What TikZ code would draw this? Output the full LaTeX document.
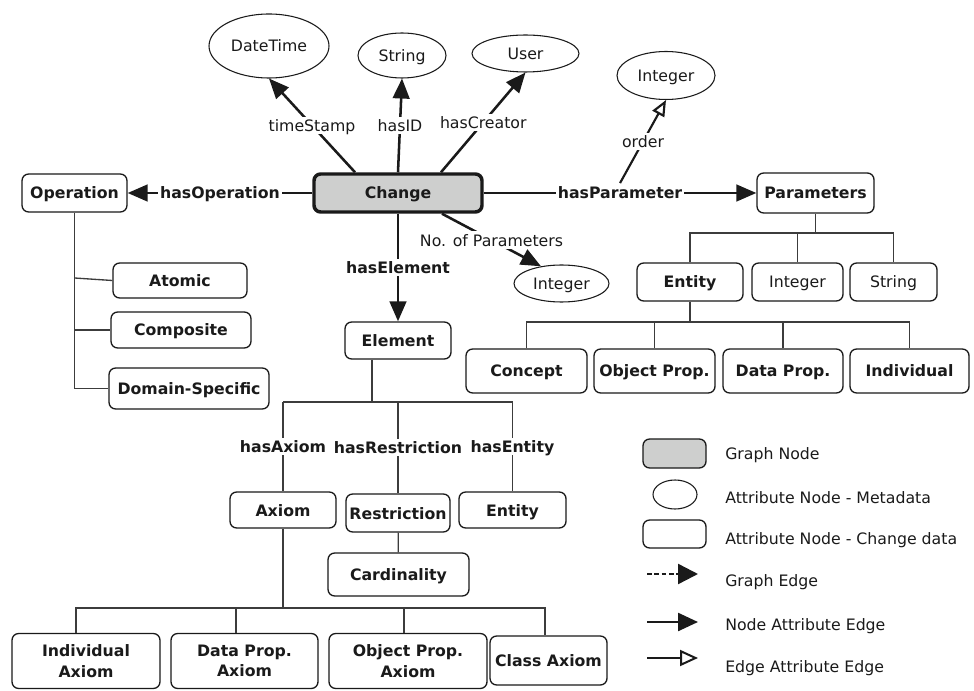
\documentclass[tikz,border=0pt]{standalone}
\usepackage{fontspec}
\setmainfont{DejaVu Sans}
\usetikzlibrary{arrows.meta,shapes.geometric}
\definecolor{ink}{RGB}{26,26,26}
\definecolor{nodegray}{RGB}{206,207,206}
\begin{document}
\begin{tikzpicture}[x=0.75pt,y=-0.75pt,
  wh/.style 2 args={minimum width=#1*0.75pt, minimum height=#2*0.75pt},
  regfont/.style={font=\fontsize{11.8}{15.5}\selectfont},
  boldfont/.style={font=\fontsize{11.8}{15.5}\selectfont\bfseries},
  oneline/.style={text height=0.95em, text depth=0.05em},
  box/.style={draw=ink, line width=1pt, rounded corners=5pt, inner sep=0pt, text=ink, boldfont, oneline},
  rbox/.style={box, regfont},
  mbox/.style={draw=ink, line width=1pt, rounded corners=5pt, inner sep=0pt, text=ink, boldfont, align=center},
  graphnode/.style={box, line width=2.6pt, fill=nodegray},
  ell/.style={draw=ink, line width=0.8pt, ellipse, inner sep=0pt, text=ink, regfont, oneline},
  lbl/.style={fill=white, inner sep=1.5pt, text=ink, regfont, oneline},
  blbl/.style={lbl, boldfont},
  tl/.style={draw=ink!85, line width=1pt},
  nae/.style={draw=ink, line width=1.9pt, -{Triangle[length=15pt,width=12.5pt]}},
  eae/.style={draw=ink, line width=1.6pt, -{Triangle[open,length=12pt,width=10pt]}},
  legtext/.style={anchor=west, inner sep=0pt, text=ink, regfont, oneline}
]
\fill[white] (0,0) rectangle (974,691);
\useasboundingbox (0,0) rectangle (974,691);

% central graph node and the operation branch
\node[graphnode, wh={168}{38}] (chg) at (398,193) {Change};
\node[box, wh={105}{38}] (op) at (74.5,193) {Operation};
\node[box, wh={134}{35}] (atomic) at (180,280.5) {Atomic};
\node[box, wh={140}{36}] (comp) at (181,330) {Composite};
\node[box, wh={160}{41}] (dom) at (189,388.5) {Domain-Specific};

% metadata attributes
\node[ell, wh={120}{64}] (dt) at (269,46) {DateTime};
\node[ell, wh={88}{45}] (str) at (402,55.5) {String};
\node[ell, wh={107}{37}] (usr) at (525.5,53.5) {User};
\node[ell, wh={98}{48}] (ordint) at (666,75.5) {Integer};
\node[ell, wh={95}{37}] (nint) at (561.5,283.5) {Integer};

% parameters
\node[box, wh={117}{40}] (par) at (815.5,193) {Parameters};
\node[box, wh={106}{38}] (pent) at (690,282) {Entity};
\node[rbox, wh={91}{38}] (pint) at (797.5,282) {Integer};
\node[rbox, wh={87}{38}] (pstr) at (893.5,282) {String};
\node[box, wh={121}{44}] (conc) at (526.5,371) {Concept};
\node[box, wh={121}{44}] (objp) at (654.5,371) {Object Prop.};
\node[box, wh={120}{44}] (datp) at (783,371) {Data Prop.};
\node[box, wh={119}{44}] (indv) at (909.5,371) {Individual};

% element
\node[box, wh={106}{37}] (elem) at (398,340.5) {Element};
\node[box, wh={106}{36}] (axm) at (283,510) {Axiom};
\node[box, wh={104}{38}] (rst) at (398,513) {Restriction};
\node[box, wh={107}{36}] (ent) at (512.5,510) {Entity};
\node[box, wh={141}{43}] (card) at (398.5,574.5) {Cardinality};
\node[mbox, wh={148}{55}] (ia) at (86,661) {Individual\\Axiom};
\node[mbox, wh={147}{55}] (dpa) at (244.5,661) {Data Prop.\\Axiom};
\node[mbox, wh={158}{55}] (opa) at (408,661) {Object Prop.\\Axiom};
\node[box, wh={117}{49}] (cla) at (548.5,660.5) {Class Axiom};

% attribute edges of the graph node
\draw[nae] (chg) -- node[blbl]{hasOperation} (op);
\draw[nae] (chg) -- node[blbl] (hp) {hasParameter} (par);
\draw[nae] (chg) -- node[blbl]{hasElement} (elem);
\draw[nae] ([xshift=-32.25pt]chg.north) -- node[lbl]{timeStamp} (dt.south);
\draw[nae] (chg.north) -- node[lbl]{hasID} (str.south);
\draw[nae] ([xshift=32.25pt]chg.north) -- node[lbl]{hasCreator} (usr.south);
\draw[nae] ([xshift=33pt]chg.south) -- node[lbl]{No. of Parameters} (nint.140);
\draw[eae] (hp.north) -- node[lbl]{order} (ordint.south);

% operation types
\coordinate (oa) at (74.5,278);
\draw[tl] (op.south) -- (op.south |- dom.west) -- (dom.west);
\draw[tl] (op.south |- comp.west) -- (comp.west);
\draw[tl] (oa) -- (atomic.west);

% parameter types
\coordinate (pbus) at (815.5,233);
\draw[tl] (par.south) -- (pbus);
\draw[tl] (pent.north) |- (pbus) -| (pstr.north);
\draw[tl] (pint.north) -- (pint.north |- pbus);

% entity types
\coordinate (ebus) at (690,322);
\draw[tl] (pent.south) -- (ebus);
\draw[tl] (conc.north) |- (ebus) -| (indv.north);
\draw[tl] (objp.north) -- (objp.north |- ebus);
\draw[tl] (datp.north) -- (datp.north |- ebus);

% element parts
\coordinate (elbus) at (372,402);
\draw[tl] (elem.south -| elbus) -- (elbus);
\draw[tl] (axm.north |- elbus) -- (ent.north |- elbus);
\draw[tl] (axm.north |- elbus) -- node[blbl]{hasAxiom} (axm.north);
\draw[tl] (rst.north |- elbus) -- node[blbl]{hasRestriction} (rst.north);
\draw[tl] (ent.north |- elbus) -- node[blbl]{hasEntity} (ent.north);
\draw[tl] (rst) -- (card);

% axiom types
\coordinate (abus) at (283,608);
\coordinate (iat) at ([xshift=-7.5pt]ia.north);
\coordinate (dpt) at ([xshift=-6.4pt]dpa.north);
\coordinate (opt) at ([xshift=-3pt]opa.north);
\coordinate (clt) at ([xshift=-2.6pt]cla.north);
\draw[tl] (axm.south) -- (abus);
\draw[tl] (iat) |- (abus) -| (clt);
\draw[tl] (dpt) -- (dpt |- abus);
\draw[tl] (opt) -- (opt |- abus);

% legend
\node[box, wh={63}{29}, fill=nodegray] (lgn) at (674.5,453.5) {};
\node[ell, wh={44}{29}] (lge) at (675,494.5) {};
\node[box, wh={63}{28}] (lgb) at (674.5,534) {};
\coordinate (g1a) at (647,574); \coordinate (g1b) at (698,574);
\coordinate (g2a) at (647,622); \coordinate (g2b) at (698,622);
\coordinate (g3a) at (647,658); \coordinate (g3b) at (698,658);
\draw[draw=ink, line width=1.8pt, dash pattern=on 3.5pt off 2pt, -{Triangle[length=15pt,width=15pt]}] (g1a) -- (g1b);
\draw[draw=ink, line width=1.8pt, -{Triangle[length=15pt,width=13.5pt]}] (g2a) -- (g2b);
\draw[draw=ink, line width=1.5pt, -{Triangle[open,length=13.5pt,width=12pt]}] (g3a) -- (g3b);
\node[legtext] (lt1) at (725,453) {Graph Node};
\node[legtext] (lt2) at (725,497) {Attribute Node - Metadata};
\node[legtext] (lt3) at (725,538) {Attribute Node - Change data};
\node[legtext] (lt4) at (725,580) {Graph Edge};
\node[legtext] (lt5) at (725,624) {Node Attribute Edge};
\node[legtext] (lt6) at (725,666) {Edge Attribute Edge};
\end{tikzpicture}
\end{document}
